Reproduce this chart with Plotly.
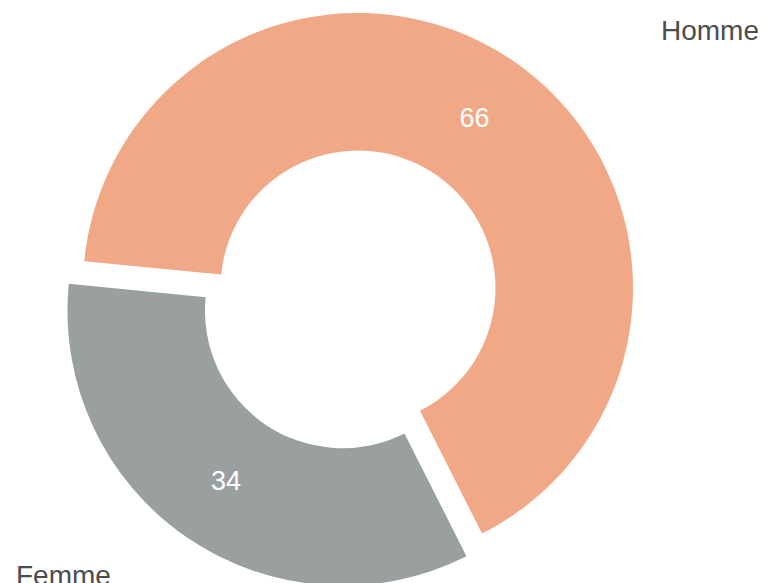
import plotly.graph_objects as go
import math

labels = ["Homme", "Femme"]
values = [66, 34]
colors = ["#F0A886", "#9AA09F"]

W, H = 766, 583
OFF = 8          # browser default body margin
R = 275          # outer radius in px
CX, CY = 358 - OFF, 288 - OFF  # centre of the main ring
PULL = 0.1       # pull of Femme slice as fraction of radius
ROT = -84.4

start = math.radians(ROT)
tot = sum(values)
mid_f = start + 2 * math.pi * (values[0] + values[1] / 2) / tot
dx = PULL * R * math.sin(mid_f)
dy = -PULL * R * math.cos(mid_f)


def dom(cx, cy):
    return dict(x=[(cx - R) / W, (cx + R) / W],
                y=[(H - cy - R) / H, (H - cy + R) / H])


fig = go.Figure()
for i in range(len(labels)):
    mc = ["rgba(0,0,0,0)"] * len(labels)
    mc[i] = colors[i]
    tt = [""] * len(labels)
    tt[i] = "%{value}"
    cx, cy = (CX, CY) if i == 0 else (CX + dx, CY + dy)
    fig.add_trace(go.Pie(
        labels=labels, values=values, hole=0.5, sort=False,
        direction="clockwise", rotation=ROT,
        marker=dict(colors=mc, line=dict(width=0)),
        texttemplate=tt, textposition="inside",
        insidetextorientation="horizontal",
        insidetextfont=dict(color="white", size=27, family="Liberation Sans, Arial"),
        domain=dom(cx, cy), showlegend=False, hoverinfo="label+value",
    ))

fig.add_annotation(text=labels[0], xref="paper", yref="paper",
                   x=(659 - OFF) / W, y=1 - (30.5 - OFF) / H, xanchor="left", yanchor="middle",
                   showarrow=False,
                   font=dict(size=28, color="#4d4d4d", family="Liberation Sans, Arial"))
fig.add_annotation(text=labels[1], xref="paper", yref="paper",
                   x=(14 - OFF) / W, y=1 - (575.5 - OFF) / H, xanchor="left", yanchor="middle",
                   showarrow=False,
                   font=dict(size=28, color="#4d4d4d", family="Liberation Sans, Arial"))

fig.update_layout(width=W, height=H, margin=dict(l=0, r=0, t=0, b=0),
                  paper_bgcolor="white", plot_bgcolor="white")
fig.write_html("out.html")
